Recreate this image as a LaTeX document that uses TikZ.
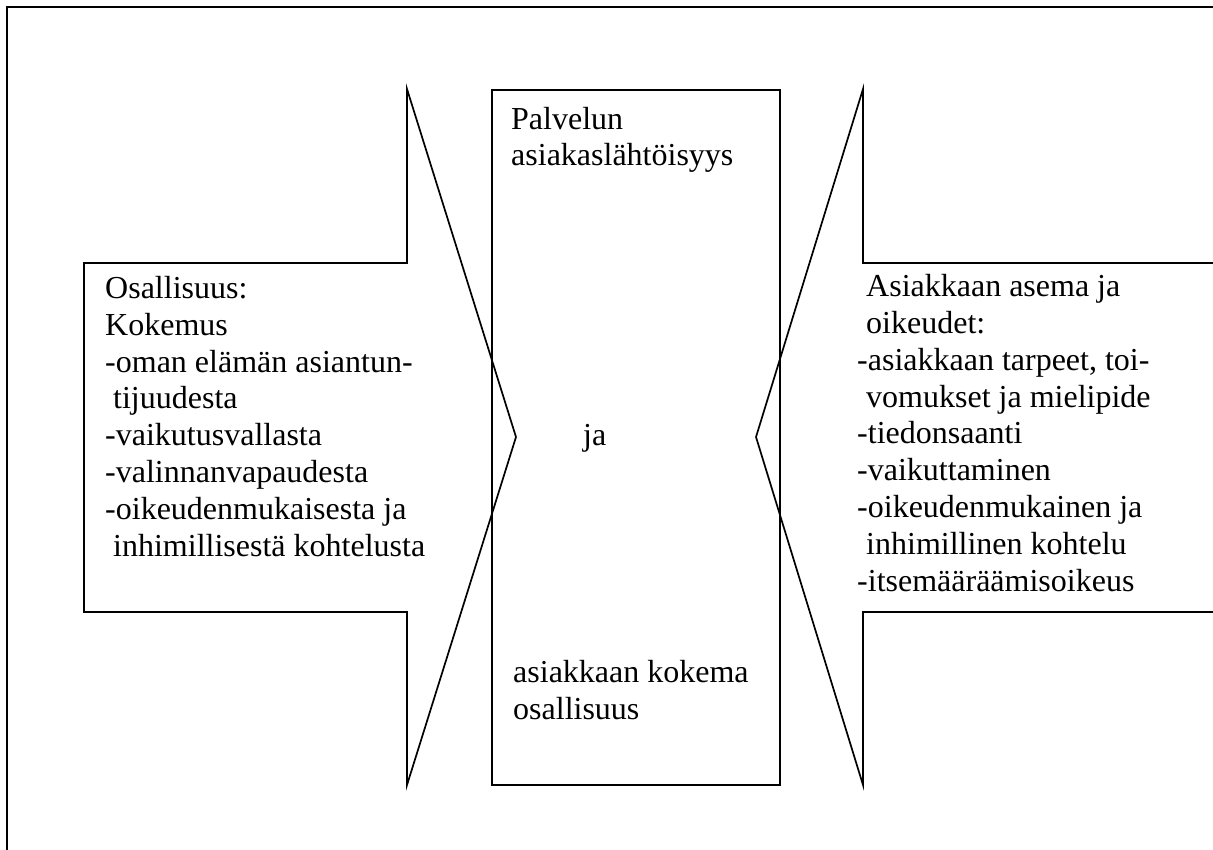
\documentclass[tikz,border=0pt]{standalone}
\usepackage{fontspec}
\setmainfont{Liberation Serif}
\begin{document}
\begin{tikzpicture}[x=1pt,y=-1pt]
%styles
\tikzstyle{textBlock}=[rectangle, text=black, inner sep=0pt, anchor=base west, align=left, font=\fontsize{32}{36.8}\selectfont]
\tikzstyle{outline}=[line width=1.7pt, line join=miter]
\tikzstyle{frame}=[line width=2.3pt]
%figure
\useasboundingbox (0,0) rectangle (1213,850);
\clip (0,0) rectangle (1213,850);
\draw[frame] (7,7) rectangle (1240,880);

%left arrow
\coordinate (l1) at (84,263);
\coordinate (l2) at (407,263);
\coordinate (l3) at (407,89);
\coordinate (ltip) at (516,437);
\coordinate (l4) at (407,785);
\coordinate (l5) at (407,612);
\coordinate (l6) at (84,612);
\draw[outline] (l1) -- (l2) -- (l3) -- (ltip) -- (l4) -- (l5) -- (l6) -- cycle;

%right arrow
\coordinate (r1) at (1240,263);
\coordinate (r2) at (863,263);
\coordinate (r3) at (863,89);
\coordinate (rtip) at (756,437);
\coordinate (r4) at (863,785);
\coordinate (r5) at (863,612);
\coordinate (r6) at (1240,612);
\draw[outline] (r1) -- (r2) -- (r3) -- (rtip) -- (r4) -- (r5) -- (r6);

%centre box
\draw[outline] (492,90) rectangle (780,785);

%text (base = last line)
\node[textBlock] (osallisuus) at (105,556) {Osallisuus:\\Kokemus\\-oman elämän asiantun-\\\hspace{8pt}tijuudesta\\-vaikutusvallasta\\-valinnanvapaudesta\\-oikeudenmukaisesta ja\\\hspace{8pt}inhimillisestä kohtelusta};
\node[textBlock] (asema) at (857,591) {\hspace{9pt}Asiakkaan asema ja\\\hspace{9pt}oikeudet:\\-asiakkaan tarpeet, toi-\\\hspace{9pt}vomukset ja mielipide\\-tiedonsaanti\\-vaikuttaminen\\-oikeudenmukainen ja\\\hspace{9pt}inhimillinen kohtelu\\-itsemääräämisoikeus};
\node[textBlock] (palvelun) at (511,166) {Palvelun\\asiakaslähtöisyys};
\node[textBlock] (ja) at (583,445) {ja};
\node[textBlock] (kokema) at (513,719) {asiakkaan kokema\\osallisuus};
\end{tikzpicture}
\end{document}
